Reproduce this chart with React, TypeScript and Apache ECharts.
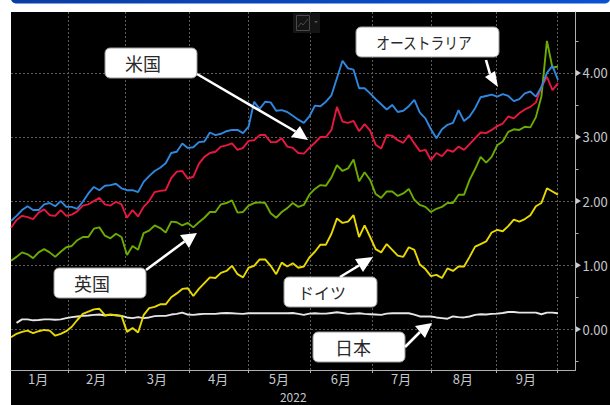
import React, { useEffect, useRef } from "react";
import * as echarts from "echarts";

// Government bond 10-year yields, 2022; one reading every two trading sessions.
const australia = [1.69,1.77,1.86,1.92,1.86,1.86,1.95,1.97,1.92,2.0,1.91,1.91,1.88,1.99,2.12,2.22,2.17,2.24,2.25,2.27,2.20,2.17,2.17,2.14,2.30,2.39,2.47,2.52,2.59,2.75,2.77,2.90,2.83,2.84,2.92,2.93,3.07,3.03,3.05,3.09,3.11,3.11,3.06,3.16,3.55,3.44,3.55,3.54,3.41,3.42,3.39,3.33,3.27,3.22,3.32,3.49,3.48,3.55,3.65,3.92,4.19,4.07,4.05,3.76,3.76,3.68,3.59,3.51,3.43,3.50,3.39,3.41,3.48,3.58,3.38,3.29,3.12,2.98,3.12,3.19,3.22,3.42,3.25,3.32,3.45,3.62,3.64,3.66,3.63,3.67,3.64,3.56,3.59,3.68,3.71,3.63,3.78,4.0,4.11,3.89];
const usa = [1.585,1.705,1.77,1.75,1.72,1.82,1.87,1.78,1.77,1.86,1.77,1.79,1.84,1.93,1.95,2.0,2.05,1.95,1.93,1.99,1.95,1.74,1.86,1.76,1.91,2.0,2.14,2.16,2.17,2.36,2.46,2.47,2.35,2.38,2.58,2.69,2.75,2.77,2.85,2.87,2.90,2.80,2.83,2.94,2.95,3.03,3.03,2.92,2.92,2.98,2.85,2.83,2.75,2.74,2.83,2.91,3.0,3.0,3.11,3.47,3.24,3.22,3.25,3.09,3.2,3.10,2.88,2.82,3.03,3.02,2.95,2.91,3.03,2.90,2.78,2.80,2.64,2.75,2.70,2.80,2.77,2.85,2.80,2.89,2.98,3.07,3.06,3.11,3.17,3.21,3.32,3.29,3.37,3.43,3.47,3.54,3.78,3.94,3.73,3.84];
const uk = [1.07,1.13,1.20,1.17,1.11,1.20,1.25,1.20,1.13,1.21,1.28,1.30,1.39,1.44,1.44,1.57,1.59,1.46,1.42,1.49,1.44,1.16,1.30,1.24,1.50,1.54,1.62,1.58,1.51,1.68,1.67,1.62,1.66,1.59,1.67,1.74,1.83,1.83,1.95,1.97,2.01,1.82,1.83,1.93,1.97,1.98,1.97,1.81,1.74,1.83,1.89,1.97,1.91,1.94,2.10,2.19,2.25,2.24,2.37,2.56,2.47,2.51,2.65,2.31,2.45,2.33,2.11,2.05,2.15,2.15,2.08,2.12,2.19,2.02,1.94,1.91,1.83,1.88,1.91,1.97,1.97,2.10,2.10,2.33,2.50,2.69,2.60,2.69,2.87,2.93,3.08,3.12,3.11,3.16,3.15,3.31,3.63,4.50,4.08,4.10];
const germany = [-0.125,-0.07,-0.04,-0.02,-0.06,-0.03,-0.01,-0.02,-0.10,-0.07,-0.03,0.04,0.145,0.24,0.275,0.31,0.32,0.22,0.23,0.22,0.21,-0.04,0.02,-0.05,0.22,0.33,0.35,0.39,0.39,0.50,0.56,0.63,0.64,0.52,0.63,0.72,0.81,0.80,0.88,0.91,0.99,0.86,0.81,0.96,0.99,1.09,1.09,0.99,0.86,1.04,0.98,1.03,0.96,0.98,1.12,1.21,1.32,1.32,1.49,1.73,1.66,1.68,1.78,1.44,1.62,1.44,1.25,1.20,1.33,1.24,1.15,1.13,1.28,1.24,1.01,0.94,0.83,0.85,0.80,0.95,0.91,0.98,0.98,1.13,1.29,1.33,1.37,1.51,1.55,1.53,1.61,1.71,1.68,1.72,1.78,1.92,1.97,2.20,2.15,2.10];
const japan = [null,0.10,0.155,0.155,0.14,0.145,0.155,0.155,0.15,0.155,0.175,0.19,0.20,0.21,0.215,0.225,0.23,0.215,0.225,0.22,0.21,0.185,0.175,0.19,0.175,0.185,0.205,0.21,0.21,0.23,0.24,0.26,0.23,0.225,0.235,0.24,0.24,0.24,0.25,0.255,0.25,0.245,0.24,0.25,0.25,0.25,0.25,0.25,0.25,0.25,0.25,0.255,0.24,0.225,0.245,0.25,0.245,0.245,0.255,0.265,0.255,0.24,0.245,0.25,0.24,0.235,0.23,0.225,0.245,0.25,0.25,0.25,0.25,0.23,0.20,0.20,0.20,0.185,0.175,0.165,0.20,0.19,0.185,0.20,0.225,0.235,0.23,0.24,0.245,0.255,0.27,0.27,0.26,0.26,0.26,0.26,0.235,0.26,0.26,0.25];

const monthLabels = ["1月", "2月", "3月", "4月", "5月", "6月", "7月", "8月", "9月"];
// Month boundaries and label centres, in units of the two-session sampling step.
const monthEnds = [10.41, 20.76, 32.34, 42.95, 54.12, 65.4, 76.15, 87.84, 98.95];
const monthCentres = [4.9, 15.4, 26.4, 37.5, 48.5, 59.7, 70.6, 81.8, 93.2];
const yLabelValues = [0, 1, 2, 3, 4];
const yMinorValues = [-0.5, 0.5, 1.5, 2.5, 3.5, 4.5];
const yearLabel = "2022";

const X_MAX = 102.17;
const Y_MIN = -0.635;
const Y_MAX = 4.95;

const withIndex = (values: (number | null)[]) => values.map((v, i) => [i, v]);

const FONT = '"Noto Sans CJK JP", "Noto Sans", sans-serif';

// White rounded label box with its caption.
const callout = (
  x: number,
  y: number,
  w: number,
  h: number,
  text: string,
  cx: number,
  size: number,
  squeeze = 1,
) => [
  {
    type: "rect",
    z: 100,
    shape: { x, y, width: w, height: h, r: 5 },
    style: { fill: "#ffffff", stroke: "#9a9a9a", lineWidth: 1 },
  },
  {
    type: "text",
    z: 101,
    x: cx,
    y: y + h / 2,
    scaleX: squeeze,
    style: { text, fill: "#2a2a2a", font: `${size}px ${FONT}`, align: "center", verticalAlign: "middle" },
  },
];

// White pointer: a shaft and a triangular head.
const pointer = (from: number[], to: number[], headA: number[], headB: number[]) => [
  {
    type: "line",
    z: 100,
    shape: { x1: from[0], y1: from[1], x2: (headA[0] + headB[0]) / 2, y2: (headA[1] + headB[1]) / 2 },
    style: { stroke: "#ffffff", lineWidth: 2.6 },
  },
  {
    type: "polygon",
    z: 100,
    shape: { points: [to, headA, headB] },
    style: { fill: "#ffffff" },
  },
];

export default function App() {
  const ref = useRef<HTMLDivElement>(null);

  useEffect(() => {
    const chart = echarts.init(ref.current!, null, { renderer: "svg" });
    const line = (name: string, values: (number | null)[], color: string) => ({
      name,
      type: "line",
      data: withIndex(values),
      showSymbol: false,
      symbol: "none",
      lineStyle: { color, width: 1.9 },
      z: 5,
    });
    chart.setOption({
      animation: false,
      backgroundColor: "#ffffff",
      grid: { left: 11, top: 12, width: 564.5, height: 358, containLabel: false, outerBoundsMode: "none" },
      xAxis: {
        type: "value",
        min: 0,
        max: X_MAX,
        name: yearLabel,
        nameLocation: "center",
        nameGap: 20,
        nameTextStyle: { color: "#c4c8cc", fontSize: 12, lineHeight: 12, fontFamily: FONT },
        axisLine: { show: true, onZero: false, lineStyle: { color: "#b0b0b0", width: 1 } },
        axisTick: { show: true, customValues: monthEnds, length: 3, lineStyle: { color: "#b0b0b0" } },
        axisLabel: {
          show: true,
          customValues: monthCentres,
          margin: 2,
          color: "#c4c8cc",
          fontSize: 13,
          fontFamily: FONT,
          formatter: (v: number) => monthLabels[monthCentres.indexOf(v)] ?? "",
        },
        splitLine: { show: true, lineStyle: { color: "#5c5c5c", type: [2, 2], width: 1 } },
      },
      yAxis: [
        {
          type: "value",
          position: "right",
          min: Y_MIN,
          max: Y_MAX,
          axisLine: { show: true, onZero: false, lineStyle: { color: "#b0b0b0", width: 1 } },
          axisTick: { show: false, customValues: yLabelValues },
          axisLabel: {
            show: true,
            customValues: yLabelValues,
            margin: 7,
            color: "#c4c8cc",
            fontSize: 13,
            fontFamily: FONT,
            formatter: (v: number) => v.toFixed(2),
          },
          splitLine: { show: true, lineStyle: { color: "#5c5c5c", type: [2, 2], width: 1 } },
        },
        {
          type: "value",
          position: "right",
          min: Y_MIN,
          max: Y_MAX,
          axisLine: { show: false, onZero: false },
          axisTick: { show: true, customValues: yMinorValues, length: 3, lineStyle: { color: "#b0b0b0" } },
          axisLabel: { show: false },
          splitLine: { show: false },
        },
      ],
      series: [
        line("日本", japan, "#e6e6e6"),
        line("ドイツ", germany, "#e8d900"),
        line("英国", uk, "#6cab00"),
        line("米国", usa, "#e8173f"),
        line("オーストラリア", australia, "#2f88e0"),
        {
          // Small markers beside each labelled tick on the value axis.
          type: "scatter",
          data: yLabelValues.map((v) => [X_MAX, v]),
          symbol: "triangle",
          symbolSize: [6, 5],
          symbolRotate: -90,
          symbolOffset: [3, 0],
          clip: false,
          silent: true,
          itemStyle: { color: "#ffffff" },
          z: 6,
        },
      ],
      graphic: [
        { type: "rect", z: -3, shape: { x: 11, y: 12, width: 599, height: 393 }, style: { fill: "#000000" } },
        {
          type: "rect",
          z: -2,
          shape: { x: 11, y: -6, width: 599, height: 9.5, r: 5 },
          style: {
            fill: new echarts.graphic.LinearGradient(0, 0, 1, 0, [
              { offset: 0, color: "#0a3da6" },
              { offset: 1, color: "#0a52d2" },
            ]),
          },
        },
        // Chart-type button at the top of the plot.
        { type: "rect", z: 3, shape: { x: 293, y: 13, width: 27, height: 20 }, style: { fill: "#141414" } },
        { type: "rect", z: 3, shape: { x: 296.5, y: 15.5, width: 13, height: 15 }, style: { fill: "none", stroke: "#4a4a4a", lineWidth: 1 } },
        {
          type: "polyline",
          z: 3,
          shape: { points: [[298, 27], [301, 23], [303, 25], [308, 19]] },
          style: { fill: "none", stroke: "#4a4a4a", lineWidth: 1 },
        },
        { type: "polygon", z: 3, shape: { points: [[314, 21], [318, 21], [316, 23.5]] }, style: { fill: "#4a4a4a" } },

        ...callout(105, 48, 92, 30, "米国", 143, 18),
        ...pointer([197, 74], [308, 140], [291, 137], [300, 126]),
        ...callout(356, 27, 143, 30, "オーストラリア", 424, 16, 0.86),
        ...pointer([486, 60], [498, 87], [485, 77], [495, 71]),
        ...callout(54, 268, 92, 30, "英国", 92, 18),
        ...pointer([146, 270], [197, 233], [180, 235], [189, 248]),
        ...callout(284, 277, 93, 30, "ドイツ", 322, 16),
        ...pointer([340, 277], [373, 257], [355, 259], [363, 272]),
        ...callout(313, 332, 92, 30, "日本", 353, 18),
        ...pointer([405, 347], [432, 323], [415, 326], [425, 338]),
      ],
    });
    return () => chart.dispose();
  }, []);

  return <div ref={ref} style={{ position: "fixed", left: 0, top: 0, width: 610, height: 405 }} />;
}
